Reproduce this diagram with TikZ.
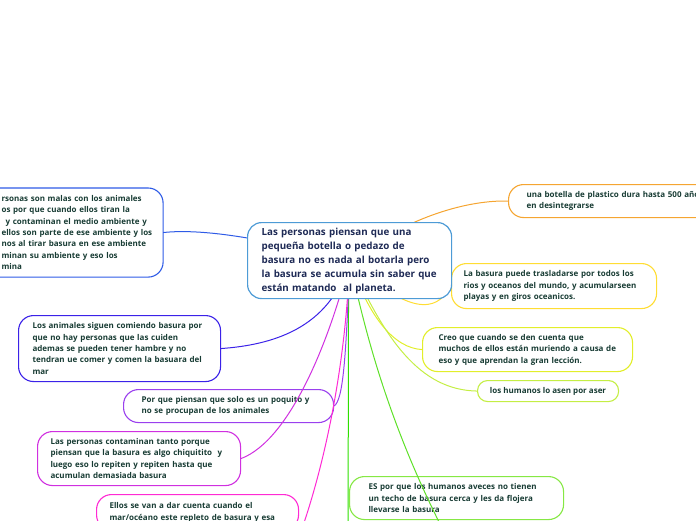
\documentclass[tikz,border=0pt]{standalone}
\usepackage{fontspec}
\setmainfont{Open Sans}
\usetikzlibrary{positioning}

\definecolor{hubblue}{HTML}{4D9BD6}
\definecolor{hubink}{HTML}{1E2A55}
\definecolor{leafink}{HTML}{183C34}
\definecolor{topblue}{HTML}{2E5BE6}
\definecolor{animblue}{HTML}{3B22E8}
\definecolor{careviolet}{HTML}{9A40EE}
\definecolor{tantopink}{HTML}{D030E0}
\definecolor{marpink}{HTML}{FF2AD4}
\definecolor{flojgreen}{HTML}{86E844}
\definecolor{downgreen}{HTML}{2EE000}
\definecolor{diaggreen}{HTML}{5EE028}
\definecolor{humlime}{HTML}{C4EE44}
\definecolor{creoyellow}{HTML}{E2EE2A}
\definecolor{basyellow}{HTML}{FFDD33}
\definecolor{botorange}{HTML}{F5A531}

\pgfdeclarelayer{front}
\pgfsetlayers{main,front}

\begin{document}
\begin{tikzpicture}[x=1pt, y=-1pt,
  leaf/.style={draw=#1, fill=white, line width=1.1pt, rounded corners=15pt,
               anchor=north west, align=left, text=leafink,
               font=\fontsize{8}{11.4}\selectfont\bfseries},
  hub/.style={draw=hubblue, fill=white, line width=1.2pt, rounded corners=14pt,
              anchor=north west, align=left, text=hubink,
              text width=176pt, inner xsep=14pt, minimum height=76pt,
              font=\fontsize{9.8}{14}\selectfont\bfseries},
  rim/.style={draw=#1, line width=1.1pt, rounded corners=15pt},
  link/.style={draw=#1, line width=1pt}
]
  \useasboundingbox (0,0) rectangle (696,520);
  \clip (0,0) rectangle (696,520);

  \node[leaf=topblue, draw=none, fill=none, text width=160pt,
        inner xsep=1pt, minimum height=88pt] (tl) at (0,188)
    {rsonas son malas con los animales\\
     os por que cuando ellos tiran la\\
     \hspace*{4pt}y contaminan el medio ambiente y\\
     ellos son parte de ese ambiente y los\\
     nos al tirar basura en ese ambiente\\
     minan su ambiente y eso los\\
     mina};
  \draw[rim=topblue] ([xshift=-80pt]tl.north west) rectangle (tl.south east);

  \node[leaf=animblue, text width=174pt, inner xsep=14pt, minimum height=66pt] (anim) at (18,315)
    {Los animales siguen comiendo basura por\\
     que no hay personas que las cuiden\\
     ademas se pueden tener hambre y no\\
     tendran ue comer y comen la basuara del\\
     mar};
  \node[leaf=careviolet, text width=174pt, inner xsep=18pt, minimum height=33pt] (porq) at (123,389)
    {Por que piensan que solo es un poquito y\\
     no se procupan de los animales};
  \node[leaf=tantopink, text width=177pt, inner xsep=13pt, minimum height=54pt] (tanto) at (37,431)
    {Las personas contaminan tanto porque\\
     piensan que la basura es algo chiquitito\ \ y\\
     luego eso lo repiten y repiten hasta que\\
     acumulan demasiada basura};
  \node[leaf=marpink, text width=176pt, inner xsep=13pt, inner ysep=8pt] (mar) at (96,494)
    {Ellos se van a dar cuenta cuando el\\
     mar/océano este repleto de basura y esa};
  \node[leaf=flojgreen, text width=176pt, inner xsep=19pt, minimum height=43pt] (floj) at (349,476)
    {ES por que los humanos aveces no tienen\\
     un techo de basura cerca y les da flojera\\
     llevarse la basura};
  \node[leaf=humlime, rounded corners=10pt, align=center, inner xsep=0pt,
        minimum width=141pt, minimum height=21pt] (hum) at (477,380)
    {los humanos lo asen por aser};
  \node[leaf=creoyellow, text width=178pt, inner xsep=16pt, minimum height=44pt] (creo) at (422,327)
    {Creo que cuando se den cuenta que\\
     muchos de ellos están muriendo a causa de\\
     eso y que aprendan la gran lección.};
  \node[leaf=basyellow, text width=181pt, inner xsep=12pt, minimum height=45pt] (bas) at (451,263)
    {La basura puede trasladarse por todos los\\
     rios y oceanos del mundo, y acumularseen\\
     playas y en giros oceanicos.};
  \node[leaf=botorange, text width=185pt, inner xsep=18pt, minimum height=33pt] (bot) at (508,184)
    {una botella de plastico dura hasta 500 años\\
     en desintegrarse};

  \begin{pgfonlayer}{front}
    \node[hub] (ctr) at (247,222)
      {Las personas piensan que una\\
       pequeña botella o pedazo de\\
       basura no es nada al botarla pero\\
       la basura se acumula sin saber que\\
       están matando\ \ al planeta.};
  \end{pgfonlayer}

  \coordinate (marend) at (298,540);
  \coordinate (downend) at (348,560);
  \coordinate (diagend) at (470,580);

  \draw[link=topblue] (ctr.center) .. controls (270,240) and (205,228) .. (tl.east);
  \draw[link=botorange] (ctr.center) .. controls (410,215) and (470,200) .. (bot.west);
  \draw[link=basyellow] (ctr.center) .. controls (420,325) and (440,305) .. (bas.west);
  \draw[link=creoyellow] (ctr.center) .. controls (370,320) and (395,348) .. (creo.west);
  \draw[link=humlime] (ctr.center) .. controls (385,340) and (420,390) .. (hum.west);
  \draw[link=diaggreen] (ctr.center) .. controls (365,330) and (390,440) .. (diagend);
  \draw[link=downgreen] ([xshift=-1pt]ctr.center) -- (downend);
  \draw[link=careviolet] (ctr.center) .. controls (346,360) and (343,400) .. (porq.east);
  \draw[link=marpink] (ctr.center) .. controls (345,380) and (320,480) .. (marend);
  \draw[link=tantopink] (ctr.center) .. controls (330,340) and (290,440) .. (tanto.east);
  \draw[link=animblue] (ctr.center) .. controls (330,330) and (270,345) .. (anim.east);
\end{tikzpicture}
\end{document}
